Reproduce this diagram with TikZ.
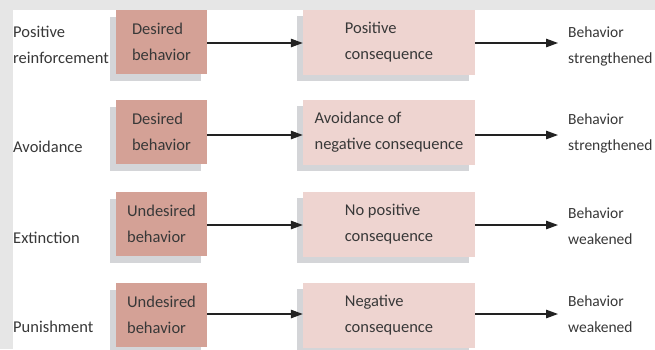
\documentclass[tikz,border=0pt]{standalone}
\usepackage{fontspec}
\setmainfont{Carlito}
\usetikzlibrary{arrows.meta,shadows}
\definecolor{bggray}{HTML}{E6E6E6}
\definecolor{darkbox}{HTML}{D4A196}
\definecolor{pinkbox}{HTML}{EED4D0}
\definecolor{shadowgray}{HTML}{D4D5D8}
\definecolor{txt}{HTML}{383838}
\definecolor{arr}{HTML}{222222}
\tikzset{
  base/.style={font=\fontsize{16.5}{26}\selectfont, text=txt, align=left, inner sep=0pt},
  behbox/.style={base, fill=darkbox, minimum width=91pt, minimum height=64pt,
    drop shadow={shadow xshift=-6pt, shadow yshift=-7pt, fill=shadowgray, opacity=1}},
  consbox/.style={base, fill=pinkbox, minimum width=172pt, minimum height=65pt,
    drop shadow={shadow xshift=-6pt, shadow yshift=-6pt, fill=shadowgray, opacity=1}},
  lbl/.style={base, anchor=west},
  rlbl/.style={lbl, font=\fontsize{15.5}{26}\selectfont},
  flow/.style={draw=arr, line width=1.2pt, -{Triangle[length=12pt,width=8.5pt]}}
}
\begin{document}
\begin{tikzpicture}[x=1pt,y=-1pt]
\fill[bggray] (0,0) rectangle (655,349);
\fill[white] (13,10) rectangle (655,349);
\useasboundingbox (0,0) rectangle (655,349);

% row 1
\node[behbox] (d1) at (161.5,42) {\raisebox{-3pt}{Desired}\\\raisebox{-3pt}{behavior}};
\node[consbox] (p1) at (389,42.5) {\raisebox{-3pt}{Positive}\\\raisebox{-3pt}{consequence}};
\node[lbl] (l1) at (13,45) {Positive\\reinforcement};
\node[rlbl] (r1) at (568,46) {Behavior\\strengthened};
% row 2
\node[behbox] (d2) at (161.5,132) {Desired\\behavior};
\node[consbox] (p2) at (389,132.5) {Avoidance of\\negative consequence};
\node[lbl] (l2) at (13,147) {Avoidance};
\node[rlbl] (r2) at (568,133) {Behavior\\strengthened};
% row 3
\node[behbox] (d3) at (161.5,224) {Undesired\\behavior};
\node[consbox] (p3) at (389,224.5) {No positive\\consequence};
\node[lbl] (l3) at (13,238) {Extinction};
\node[rlbl] (r3) at (568,226) {Behavior\\weakened};
% row 4
\node[behbox] (d4) at (161.5,315) {Undesired\\behavior};
\node[consbox] (p4) at (389,315.5) {Negative\\consequence};
\node[lbl] (l4) at (13,327) {Punishment};
\node[rlbl] (r4) at (568,314) {Behavior\\weakened};

% arrow rows
\coordinate (a1) at (0,43);
\coordinate (a2) at (0,135);
\coordinate (a3) at (0,225);
\coordinate (a4) at (0,314);
\foreach \i in {1,2,3,4}{
  \draw[flow] (d\i.east |- a\i) -- (p\i.west |- a\i);
  \draw[flow] (p\i.east |- a\i) -- ([xshift=-10pt]r\i.west |- a\i);
}
\end{tikzpicture}
\end{document}
